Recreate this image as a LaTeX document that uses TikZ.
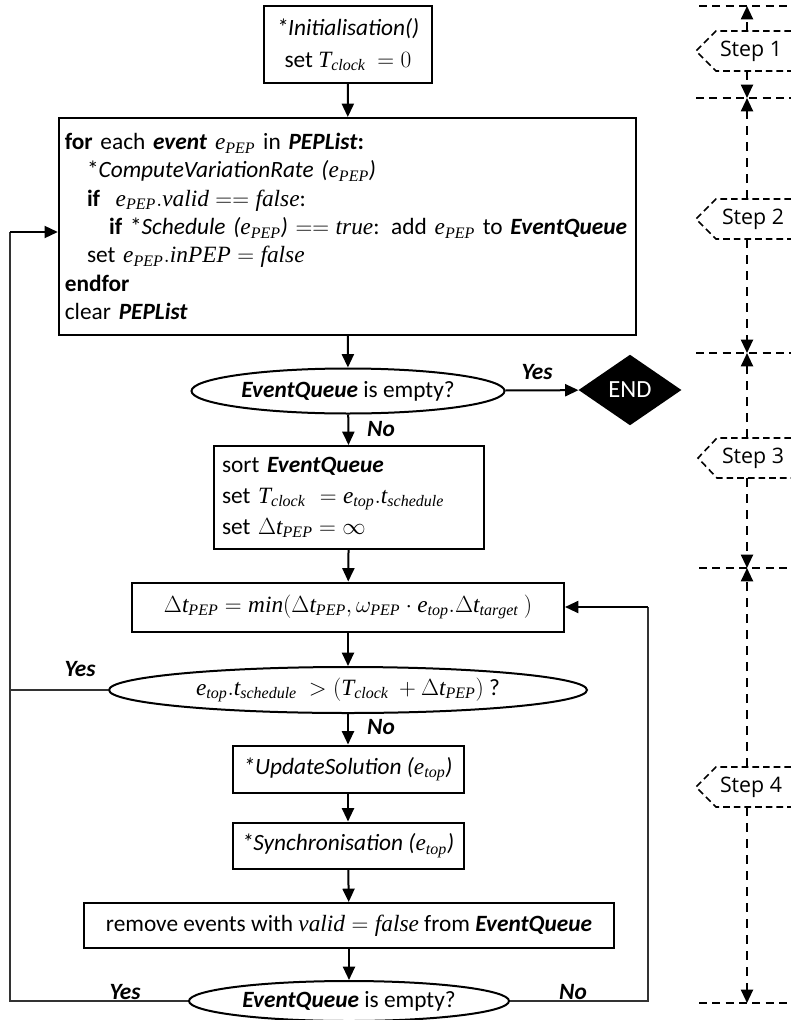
\documentclass[tikz,border=0pt]{standalone}
\usepackage{fix-cm}
\usepackage{fontspec}
\setmainfont{Carlito}
\newfontfamily\stepfont{Open Sans}
\newfontfamily\mathletterfont{Liberation Serif}[NFSSFamily=libser]
\DeclareSymbolFont{libletters}{TU}{libser}{m}{it}
\makeatletter
\def\setml#1{\DeclareMathSymbol{#1}{\mathalpha}{libletters}{`#1}}
\@tfor\x:=abcdefghijklmnopqrstuvwxyzABCDEFGHIJKLMNOPQRSTUVWXYZ\do{\expandafter\setml\x}
\makeatother
\DeclareMathSizes{17.5}{17.5}{12}{9}
\usetikzlibrary{arrows.meta,shapes.geometric}
\begin{document}
\begin{tikzpicture}[x=0.75pt,y=-0.75pt,
  font=\fontsize{17.5}{21.25}\selectfont,
  box/.style={draw,line width=1.5pt,inner sep=0pt,align=center},
  oval/.style={draw,ellipse,line width=1.5pt,inner sep=0pt,align=center},
  arr/.style={line width=1.5pt,-{Triangle[length=10pt,width=9pt]}},
  loopline/.style={line width=1.1pt,black!80},
  lbl/.style={font=\fontsize{17.5}{21.25}\selectfont\bfseries\itshape},
  hdash/.style={line width=1.1pt,dash pattern=on 6pt off 4pt},
  vdash/.style={line width=1.5pt,dash pattern=on 7pt off 5pt,-{Triangle[length=10pt,width=9pt]}},
  tag/.style={line width=1.2pt,dash pattern=on 5pt off 3pt},
  steptext/.style={font=\stepfont\fontsize{16}{18}\selectfont}]
\useasboundingbox (0,0) rectangle (791,1020);

% ---------------- main flow ----------------
\node[box,minimum width=126pt,minimum height=57.75pt,font=\fontsize{17.5}{24}\selectfont] (init) at (348,44.5)
  {\textit{*Initialisation()}\\ set $T_{clock}\ = 0$};

\node[box,align=left,text width=424pt,inner xsep=4.5pt,minimum height=162.75pt] (big) at (347.5,226.5)
  {\textbf{for} each \textbf{\textit{event}} $e_{PEP}$ in \textbf{\textit{PEPList}}\textbf{:}\\
   \hspace*{0.95em}*\textit{ComputeVariationRate (}$e_{PEP}$\textit{)}\\
   \hspace*{0.95em}\textbf{if} \ $e_{PEP}.valid == false$:\\
   \makebox[0pt][l]{\hspace*{1.9em}\textbf{if} *\textit{Schedule (}$e_{PEP}$\textit{)} $== true$: add $e_{PEP}$ to \textbf{\textit{EventQueue}}}\\
   \hspace*{0.95em}set $e_{PEP}.inPEP = false$\\
   \textbf{endfor}\\
   clear \textbf{\textit{PEPList}}};

\node[oval,minimum width=234.75pt,minimum height=33.75pt] (e1) at (348,391)
  {\textbf{\textit{EventQueue}} is empty?};

\node[diamond,fill=black,text=white,inner sep=0pt,minimum width=77.25pt,minimum height=53pt,font=\fontsize{18.5}{20}\selectfont] (end) at (630,390) {END};

\node[box,align=left,text width=190.5pt,inner xsep=6pt,minimum height=77.25pt,font=\fontsize{17.5}{23}\selectfont] (sort) at (349,497.5)
  {sort \textbf{\textit{EventQueue}}\\
   set $T_{clock}\ = e_{top}.t_{schedule}$\\
   set $\Delta t_{PEP} = \infty$};

\node[box,minimum width=324pt,minimum height=36.75pt] (min) at (348,607)
  {$\Delta t_{PEP} = min\bigl(\Delta t_{PEP}, \omega_{PEP}\cdot e_{top}.\Delta t_{target}\ \bigr)$};

\node[oval,minimum width=358.5pt,minimum height=34.5pt] (e2) at (348,690)
  {$e_{top}.t_{schedule}\ > (T_{clock}\ + \Delta t_{PEP})$ ?};

\node[box,minimum width=173.25pt,minimum height=35.25pt] (upd) at (348,769)
  {\textit{*UpdateSolution (}$e_{top}$\textit{)}};

\node[box,minimum width=173.25pt,minimum height=34.5pt] (sync) at (348,845.5)
  {\textit{*Synchronisation (}$e_{top}$\textit{)}};

\node[box,minimum width=397.5pt,minimum height=33.75pt] (rem) at (349,925.5)
  {remove events with $valid = false$ from \textbf{\textit{EventQueue}}};

\node[oval,minimum width=240pt,minimum height=30pt] (e3) at (349,1001)
  {\textbf{\textit{EventQueue}} is empty?};

% connectors
\draw[arr] (init) -- (big);
\draw[arr] (big) -- (e1);
\draw[arr] (e1) -- (end);
\draw[arr] (e1) -- (sort);
\draw[arr] (sort) -- (min);
\draw[arr] (min) -- (e2);
\draw[arr] (e2) -- (upd);
\draw[arr] (upd) -- (sync);
\draw[arr] (sync) -- (rem);
\draw[arr] (rem) -- (e3);

\coordinate (L) at (10,232);
\coordinate (R) at (648,607);
\draw[loopline] (e2.west) -- (e2.west -| L);
\draw[loopline] (e3.west) -| (L);
\draw[arr] (L) -- (L -| big.west);
\draw[loopline] (e3.east) -| (R);
\draw[arr] (R) -- (min.east);

% labels
\node[lbl] (y1) at (537,372) {Yes};
\node[lbl] (n1) at (381,429) {No};
\node[lbl] (y2) at (80,669) {Yes};
\node[lbl] (n2) at (381,727) {No};
\node[lbl] (y3) at (125,992) {Yes};
\node[lbl] (n3) at (573,992) {No};

% ---------------- step column ----------------
\coordinate (h0) at (747,6);
\coordinate (h1) at (747,98);
\coordinate (h2) at (747,353);
\coordinate (h3) at (747,568);
\coordinate (h4) at (747,1003);
\draw[hdash] (699,6) -- (791,6);
\draw[hdash] (696,98) -- (791,98);
\draw[hdash] (696,353) -- (791,353);
\draw[hdash] (699,568) -- (791,568);
\draw[hdash] (699,1003) -- (791,1003);

\node[steptext] (s1) at (751,51) {Step 1};
\node[steptext] (s2) at (753,219) {Step 2};
\node[steptext] (s3) at (753,458) {Step 3};
\node[steptext] (s4) at (751,787) {Step 4};

\draw[tag] (791,31) -- (716,31) -- (696,51) -- (716,71) -- (791,71);
\draw[tag] (791,199) -- (716,199) -- (696,219) -- (716,239) -- (791,239);
\draw[tag] (791,438) -- (717,438) -- (698,458) -- (717,478) -- (791,478);
\draw[tag] (791,767) -- (716,767) -- (696,787) -- (716,807) -- (791,807);

\coordinate (s1t) at (747,31);  \coordinate (s1b) at (747,71);
\coordinate (s2t) at (747,199); \coordinate (s2b) at (747,239);
\coordinate (s3t) at (747,438); \coordinate (s3b) at (747,478);
\coordinate (s4t) at (747,767); \coordinate (s4b) at (747,807);

\draw[vdash] (s1t) -- (h0);
\draw[vdash] (s1b) -- (h1);
\draw[vdash] (s2t) -- (h1);
\draw[vdash] (s2b) -- (h2);
\draw[vdash] (s3t) -- (h2);
\draw[vdash] (s3b) -- (h3);
\draw[vdash] (s4t) -- (h3);
\draw[vdash] (s4b) -- (h4);
\end{tikzpicture}
\end{document}
